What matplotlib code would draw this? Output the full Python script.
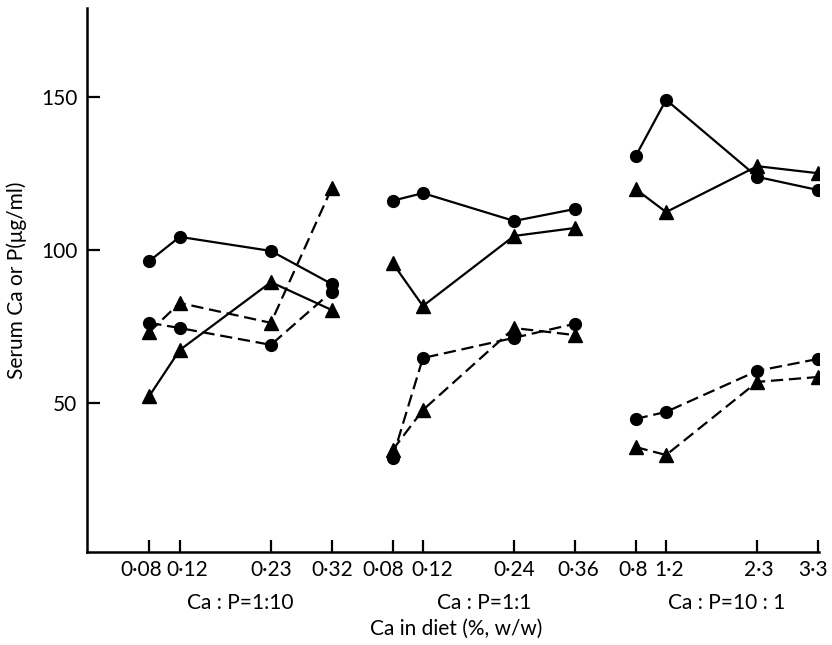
import matplotlib
matplotlib.use("Agg")
import matplotlib.pyplot as plt
from matplotlib.transforms import blended_transform_factory, ScaledTranslation

plt.rcParams['font.family'] = ['Lato', 'DejaVu Sans']

# ---- data ----
group_labels = ["Ca : P=1:10", "Ca : P=1:1", "Ca : P=10 : 1"]
ca_tick_labels = [
    ["0·08", "0·12", "0·23", "0·32"],
    ["0·08", "0·12", "0·24", "0·36"],
    ["0·8", "1·2", "2·3", "3·3"],
]
solid_circle = [96.3, 104.2, 99.6, 88.8, 116.0, 118.5, 109.4, 113.3, 130.6, 149.0, 123.8, 119.5]
solid_triangle = [52.2, 67.2, 89.4, 80.3, 95.7, 81.6, 104.5, 107.1, 119.8, 112.3, 127.3, 125.0]
dashed_circle = [76.1, 74.4, 68.9, 86.3, 31.9, 64.6, 71.2, 75.8, 44.7, 47.0, 60.4, 64.3]
dashed_triangle = [73.1, 82.6, 76.1, 120.1, 34.5, 47.6, 74.4, 72.1, 35.5, 32.9, 56.8, 58.4]
y_ticks = [50, 100, 150]

# ---- layout ----
slot_offsets = [0, 1, 4, 6]
group_spacing = 8
n_groups = len(group_labels)
xpos = [g * group_spacing + s for g in range(n_groups) for s in slot_offsets]
# horizontal nudges (pixels) for crowded tick labels
label_nudge = [-8, 8, 0, 1, -9, 9, 0, 3, -3, 3, 2, -5]
FS = 15

fig = plt.figure(figsize=(8.32, 6.45), dpi=100)
ax = fig.add_axes([87 / 832, 1 - 552 / 645, (819 - 87) / 832, (552 - 8) / 645])

dash = (0, (5.5, 2.6))
series = [
    (solid_circle, 'o', '-'),
    (solid_triangle, '^', '-'),
    (dashed_circle, 'o', dash),
    (dashed_triangle, '^', dash),
]
for vals, mk, ls in series:
    for g in range(n_groups):
        sl = slice(g * 4, g * 4 + 4)
        ax.plot(xpos[sl], vals[sl], color='black', linestyle=ls, linewidth=1.6,
                marker=mk, markersize=8.5 if mk == 'o' else 10,
                markerfacecolor='black', markeredgecolor='black', zorder=3)

ax.set_xlim(-2.05, 22.03)
ax.set_ylim(1.2, 179)
ax.spines['top'].set_visible(False)
ax.spines['right'].set_visible(False)
ax.spines['left'].set_linewidth(1.8)
ax.spines['bottom'].set_linewidth(1.8)

ax.set_xticks(xpos)
ax.set_xticklabels([l for grp in ca_tick_labels for l in grp], fontsize=FS)
ax.set_yticks(y_ticks)
ax.set_yticklabels([str(v) for v in y_ticks], fontsize=FS)
ax.tick_params(axis='both', direction='in', length=9, width=1.6)
ax.tick_params(axis='x', pad=6)
ax.tick_params(axis='y', pad=7)

for lab, dx in zip(ax.get_xticklabels(), label_nudge):
    lab.set_transform(lab.get_transform() + ScaledTranslation(dx / 100, 0, fig.dpi_scale_trans))

ax.set_ylabel("Serum Ca or P(μg/ml)", fontsize=FS)
ax.yaxis.set_label_coords(-0.082, 0.5)

trans = blended_transform_factory(ax.transData, fig.transFigure)
for g, lab in enumerate(group_labels):
    ax.text(g * group_spacing + 3, 1 - 603 / 645, lab, transform=trans,
            ha='center', va='center', fontsize=FS)

fig.text(456 / 832, 1 - 629 / 645, "Ca in diet (%, w/w)", ha='center', va='center',
         fontsize=FS)

fig.savefig("out.png", dpi=100)
